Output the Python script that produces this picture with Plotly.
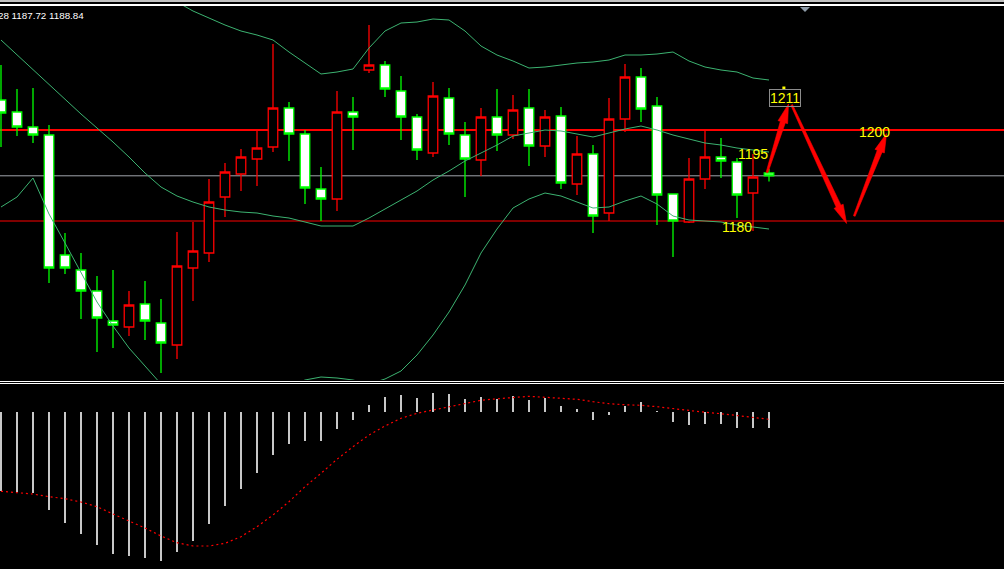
import math
import plotly.graph_objects as go

# ---------------- data ----------------
idx = list(range(49))

opens = [1204.0, 1201.6, 1198.6, 1197.0, 1173.0, 1170.0, 1165.8, 1159.8, 1158.6, 1163.2,
         1159.4, 1155.0, 1170.4, 1173.4, 1184.6, 1189.2, 1192.2, 1194.6, 1202.4, 1197.2,
         1186.2, 1184.2, 1201.6, 1210.0, 1211.0, 1205.8, 1200.6, 1193.4, 1204.4, 1197.0,
         1192.0, 1200.6, 1197.0, 1202.4, 1194.8, 1200.8, 1187.2, 1193.2, 1181.4, 1200.2,
         1208.6, 1202.8, 1185.2, 1179.6, 1188.2, 1192.6, 1191.6, 1185.4, 1189.4]
highs = [1211.0, 1206.2, 1206.4, 1199.0, 1177.4, 1173.4, 1168.8, 1170.0, 1165.8, 1167.8,
         1164.2, 1177.6, 1179.6, 1188.2, 1191.4, 1194.2, 1198.2, 1215.2, 1203.6, 1198.0,
         1190.6, 1205.8, 1204.6, 1219.0, 1211.8, 1208.8, 1201.2, 1207.6, 1206.4, 1199.6,
         1202.4, 1206.2, 1205.0, 1206.2, 1202.0, 1202.6, 1196.8, 1195.0, 1204.4, 1211.2,
         1210.4, 1204.6, 1185.2, 1192.4, 1198.2, 1196.4, 1192.4, 1193.2, 1190.2]
lows = [1194.6, 1196.8, 1195.4, 1167.4, 1169.2, 1160.2, 1153.6, 1154.4, 1156.8, 1156.0,
        1149.4, 1152.2, 1163.8, 1171.6, 1180.6, 1185.8, 1186.8, 1193.6, 1191.8, 1183.2,
        1179.8, 1181.8, 1194.0, 1209.4, 1204.6, 1196.0, 1192.0, 1192.6, 1195.0, 1184.6,
        1188.8, 1193.8, 1196.2, 1190.8, 1192.6, 1186.2, 1185.0, 1177.4, 1179.8, 1197.6,
        1199.6, 1179.0, 1172.6, 1179.4, 1186.2, 1188.4, 1180.4, 1177.8, 1187.72]
closes = [1201.4, 1198.6, 1197.0, 1170.4, 1170.4, 1165.8, 1160.4, 1159.0, 1163.0, 1159.8,
          1155.4, 1170.8, 1173.8, 1183.6, 1189.6, 1192.6, 1194.4, 1202.4, 1197.2, 1186.4,
          1184.2, 1201.6, 1200.6, 1211.0, 1206.2, 1200.6, 1194.0, 1204.8, 1197.2, 1192.2,
          1200.6, 1197.0, 1202.0, 1194.8, 1200.6, 1187.4, 1193.2, 1180.8, 1200.2, 1208.6,
          1202.2, 1185.0, 1179.8, 1188.2, 1192.6, 1191.8, 1185.0, 1188.6, 1188.84]

bb_upper = [1248.0, 1243.0, 1236.0, 1233.0, 1232.4, 1232.4, 1232.8, 1232.0, 1230.4, 1228.0,
            1225.8, 1223.6, 1221.8, 1220.4, 1219.0, 1217.8, 1217.0, 1216.0, 1213.6, 1211.4,
            1209.2, 1209.6, 1210.2, 1214.4, 1217.8, 1219.4, 1219.6, 1220.2, 1220.0, 1217.8,
            1214.8, 1213.0, 1211.8, 1210.4, 1210.6, 1211.0, 1211.4, 1211.6, 1212.0, 1213.0,
            1213.0, 1213.2, 1213.6, 1211.8, 1210.6, 1210.0, 1209.6, 1208.4, 1208.0]
bb_middle = [1216.0, 1213.0, 1210.0, 1207.0, 1204.2, 1201.2, 1198.4, 1195.6, 1192.6, 1189.4,
             1186.6, 1184.8, 1183.6, 1182.6, 1182.0, 1181.6, 1181.4, 1180.8, 1180.4, 1179.6,
             1178.8, 1178.8, 1178.8, 1180.4, 1182.2, 1184.0, 1185.8, 1188.0, 1189.8, 1191.8,
             1193.4, 1195.0, 1196.8, 1197.4, 1198.0, 1197.8, 1197.2, 1196.6, 1197.4, 1198.2,
             1198.8, 1198.0, 1197.0, 1196.2, 1195.4, 1195.0, 1194.4, 1194.0, 1193.6]
bb_lower = [1182.6, 1184.6, 1188.4, 1181.2, 1175.4, 1169.6, 1163.6, 1158.8, 1154.4, 1150.8,
            1147.2, 1145.6, 1145.0, 1144.4, 1144.8, 1145.2, 1145.6, 1145.6, 1146.8, 1148.0,
            1148.6, 1148.4, 1148.0, 1147.2, 1148.2, 1149.8, 1153.0, 1157.0, 1161.6, 1167.0,
            1173.4, 1178.2, 1182.4, 1184.2, 1185.4, 1184.8, 1183.6, 1182.4, 1182.6, 1183.8,
            1184.8, 1183.2, 1180.8, 1180.0, 1179.8, 1179.6, 1179.0, 1178.6, 1178.2]

macd_hist = [-7.87, -8.0, -8.1, -9.77, -11.07, -12.17, -13.27, -14.17, -14.37, -14.57,
             -14.87, -13.97, -12.87, -11.17, -9.37, -7.67, -6.07, -4.27, -3.17, -2.87,
             -2.87, -1.67, -0.77, 0.73, 1.5, 1.73, 1.43, 1.93, 1.83, 1.33,
             1.53, 1.33, 1.63, 1.2, 1.43, 0.63, 0.33, -0.8, -0.27, 0.63,
             1.03, 0.1, -1.0, -1.3, -1.2, -1.2, -1.6, -1.6, -1.6]
macd_signal = [-7.93, -8.07, -8.2, -8.47, -8.67, -9.0, -9.47, -10.2, -10.87, -11.6,
               -12.4, -13.07, -13.4, -13.4, -13.13, -12.47, -11.47, -10.3, -8.97, -7.47,
               -6.13, -4.73, -3.47, -2.3, -1.4, -0.63, -0.13, 0.2, 0.53, 0.87,
               1.17, 1.32, 1.47, 1.57, 1.47, 1.4, 1.27, 1.03, 0.83, 0.73,
               0.67, 0.53, 0.33, 0.17, -0.03, -0.17, -0.37, -0.5, -0.73]

# horizontal levels
level_upper = 1198.0
level_bid = 1188.84
level_lower = 1179.8

# text labels (x in bar index, y in price)
label_text = ["1195", "1180", "1200", "1211"]
label_x = [47.03, 46.03, 54.62, 49.03]
label_y = [1193.2, 1178.7, 1197.7, 1204.5]
label_boxed = [False, False, False, True]

# small anchor dot of the "1211" text object
dot_x = [48.93]
dot_y = [1206.4]

# forecast arrows: tail -> head
arrow_tail_x = [47.875, 49.42, 53.33]
arrow_tail_y = [1189.5, 1203.0, 1180.8]
arrow_head_x = [49.22, 52.85, 55.35]
arrow_head_y = [1203.2, 1179.3, 1197.3]

header_text = "XAUUSD,H4 1189.40 1189.28 1187.72 1188.84"

# ---------------- layout constants ----------------
W, H = 1004, 569
def py(px):
    return 1 - px / H

X_RANGE = [-0.0625, 62.6875]
Y_MAIN = [1148.0, 1222.8]
Y_MACD = [-15.7, 2.8]
PX_PER_X = W / (X_RANGE[1] - X_RANGE[0])
PX_PER_Y = 374 / (Y_MAIN[1] - Y_MAIN[0])

BAND = "#3CB371"


def arrow_path(tx, ty, hx, hy, head_len=19, head_half=5.0, tail_half=0.9, base_half=2.6):
    """Tapered arrow outline (computed in screen pixels, returned in data units)."""
    TX, TY = tx * PX_PER_X, -ty * PX_PER_Y
    HX, HY = hx * PX_PER_X, -hy * PX_PER_Y
    L = math.hypot(HX - TX, HY - TY)
    dx, dy = (HX - TX) / L, (HY - TY) / L
    nx, ny = -dy, dx
    BX, BY = HX - dx * head_len, HY - dy * head_len
    pts = [
        (TX + nx * tail_half, TY + ny * tail_half),
        (BX + nx * base_half, BY + ny * base_half),
        (BX + nx * head_half, BY + ny * head_half),
        (HX, HY),
        (BX - nx * head_half, BY - ny * head_half),
        (BX - nx * base_half, BY - ny * base_half),
        (TX - nx * tail_half, TY - ny * tail_half),
    ]
    return "M " + " L ".join(f"{X / PX_PER_X:.5f},{-Y / PX_PER_Y:.5f}" for X, Y in pts) + " Z"


fig = go.Figure()

for band in (bb_upper, bb_middle, bb_lower):
    fig.add_trace(go.Scatter(x=idx, y=band, mode="lines", line=dict(color=BAND, width=1),
                             xaxis="x", yaxis="y", hoverinfo="skip"))

fig.add_trace(go.Candlestick(
    x=idx, open=opens, high=highs, low=lows, close=closes,
    increasing=dict(line=dict(color="#FF0000", width=1.3), fillcolor="#000000"),
    decreasing=dict(line=dict(color="#00FF00", width=1.3), fillcolor="#FFFFFF"),
    whiskerwidth=0, xaxis="x", yaxis="y", hoverinfo="skip"))

fig.add_trace(go.Scatter(x=dot_x, y=dot_y, mode="markers",
                         marker=dict(symbol="square", size=3, color="#FFFF00", line=dict(width=0)),
                         xaxis="x", yaxis="y", hoverinfo="skip"))

fig.add_trace(go.Bar(x=idx, y=macd_hist, width=0.13,
                     marker=dict(color="#C8C8C8", line=dict(width=0)),
                     xaxis="x2", yaxis="y2", hoverinfo="skip"))
fig.add_trace(go.Scatter(x=idx, y=macd_signal, mode="lines",
                         line=dict(color="#FF0000", width=1.2, dash="2px,3px"),
                         xaxis="x2", yaxis="y2", hoverinfo="skip"))

shapes = [
    dict(type="rect", xref="paper", yref="paper", x0=0, x1=1, y0=py(2), y1=py(0),
         fillcolor="#C0C0C0", line=dict(width=0), layer="above"),
    dict(type="rect", xref="paper", yref="paper", x0=0, x1=1, y0=py(6), y1=py(4),
         fillcolor="#FFFFFF", line=dict(width=0), layer="above"),
    dict(type="rect", xref="paper", yref="paper", x0=0, x1=1, y0=py(382), y1=py(381),
         fillcolor="#FFFFFF", line=dict(width=0), layer="above"),
    dict(type="rect", xref="paper", yref="paper", x0=0, x1=1, y0=py(384), y1=py(383),
         fillcolor="#FFFFFF", line=dict(width=0), layer="above"),
    dict(type="path", xref="paper", yref="paper",
         path=f"M {800/W} {py(7)} L {810/W} {py(7)} L {805/W} {py(12)} Z",
         fillcolor="#8E9BA8", line=dict(width=0), layer="above"),
    dict(type="line", xref="paper", yref="y", x0=0, x1=1, y0=level_upper, y1=level_upper,
         line=dict(color="#FF0000", width=2), layer="below"),
    dict(type="line", xref="paper", yref="y", x0=0, x1=1, y0=level_bid, y1=level_bid,
         line=dict(color="#A0A4AC", width=1), layer="below"),
    dict(type="line", xref="paper", yref="y", x0=0, x1=1, y0=level_lower, y1=level_lower,
         line=dict(color="#FF0000", width=1), layer="below"),
]
for tx, ty, hx, hy in zip(arrow_tail_x, arrow_tail_y, arrow_head_x, arrow_head_y):
    shapes.append(dict(type="path", xref="x", yref="y", path=arrow_path(tx, ty, hx, hy),
                       fillcolor="#FF0000", line=dict(color="#FF0000", width=0.6),
                       layer="above"))

LABEL_FONT = "Liberation Sans Narrow, Arial Narrow, Liberation Sans, Arial, sans-serif"
annotations = [
    dict(xref="paper", yref="paper", x=86 / W, y=py(15), xanchor="right", yanchor="middle",
         text=header_text, showarrow=False,
         font=dict(family="Liberation Sans, Arial, sans-serif", size=9.8, color="#FFFFFF")),
]
for t, lx, ly, boxed in zip(label_text, label_x, label_y, label_boxed):
    a = dict(xref="x", yref="y", x=lx, y=ly, text=t, showarrow=False,
             xanchor="center", yanchor="middle",
             font=dict(family=LABEL_FONT, size=14, color="#FFFF00"))
    if boxed:
        a.update(bordercolor="#8C8C8C", borderwidth=1, borderpad=0)
    annotations.append(a)

fig.update_layout(
    width=W, height=H, margin=dict(l=0, r=0, t=0, b=0),
    paper_bgcolor="#000000", plot_bgcolor="#000000", showlegend=False,
    xaxis=dict(domain=[0, 1], range=X_RANGE, visible=False, anchor="y",
               rangeslider=dict(visible=False), fixedrange=True),
    yaxis=dict(domain=[py(380), py(6)], range=Y_MAIN, visible=False, fixedrange=True),
    xaxis2=dict(domain=[0, 1], range=X_RANGE, visible=False, anchor="y2", fixedrange=True),
    yaxis2=dict(domain=[0, py(384)], range=Y_MACD, visible=False, fixedrange=True),
    shapes=shapes, annotations=annotations, bargap=0, boxgap=0.15,
)

fig.write_html("out.html", config=dict(displayModeBar=False),
               post_script="document.body.style.margin='0';"
                           "document.body.style.background='#000';"
                           "document.documentElement.style.overflow='hidden';")
